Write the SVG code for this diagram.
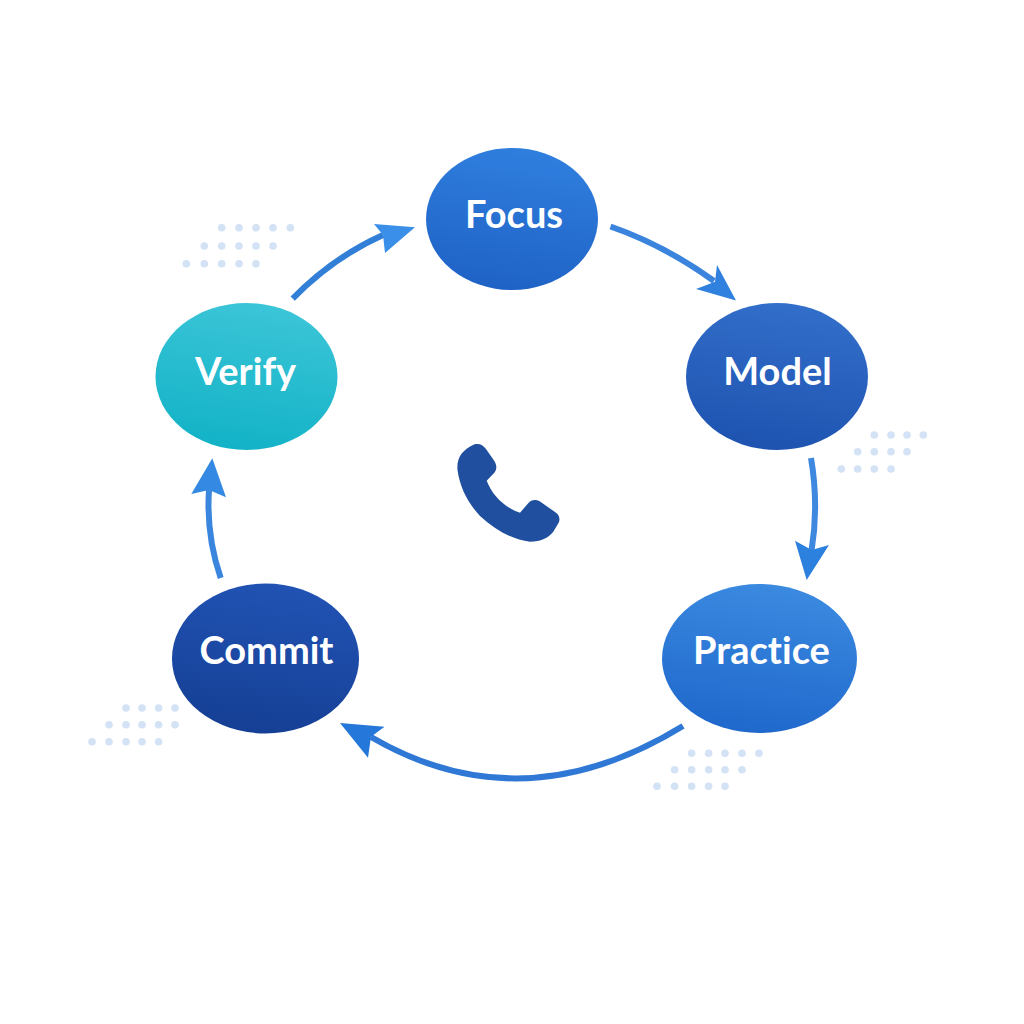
<svg xmlns="http://www.w3.org/2000/svg" width="1024" height="1024" viewBox="0 0 1024 1024">
<style>
.lbl{font-family:"Lato","Noto Sans",sans-serif;font-weight:700;font-size:38px;fill:#fff;text-anchor:middle;font-variant-ligatures:none}
.arc{fill:none;stroke-width:6}
.d{fill:#d3e2f4}
</style>
<defs>
<linearGradient id="gFocus" x1="0.6" y1="0" x2="0.4" y2="1"><stop offset="0" stop-color="#2f7fdf"/><stop offset="1" stop-color="#1f62c6"/></linearGradient>
<linearGradient id="gModel" x1="0.6" y1="0" x2="0.4" y2="1"><stop offset="0" stop-color="#326fca"/><stop offset="1" stop-color="#1e53b0"/></linearGradient>
<linearGradient id="gPractice" x1="0.6" y1="0" x2="0.4" y2="1"><stop offset="0" stop-color="#3b8ae0"/><stop offset="1" stop-color="#1f68cc"/></linearGradient>
<linearGradient id="gCommit" x1="0.6" y1="0" x2="0.4" y2="1"><stop offset="0" stop-color="#2153b4"/><stop offset="1" stop-color="#153f94"/></linearGradient>
<linearGradient id="gVerify" x1="0.6" y1="0" x2="0.4" y2="1"><stop offset="0" stop-color="#3cc5d8"/><stop offset="1" stop-color="#12b2c6"/></linearGradient>
</defs>
<rect width="1024" height="1024" fill="#fff"/>
<g id="dots">
<g class="d" id="dots-tl">
<circle cx="221.7" cy="227.7" r="3.8"/><circle cx="239" cy="227.7" r="3.8"/><circle cx="256" cy="227.7" r="3.8"/><circle cx="273" cy="227.7" r="3.8"/><circle cx="290.3" cy="227.7" r="3.8"/>
<circle cx="204.3" cy="246" r="3.8"/><circle cx="221.7" cy="246" r="3.8"/><circle cx="239" cy="246" r="3.8"/><circle cx="256" cy="246" r="3.8"/><circle cx="273" cy="246" r="3.8"/>
<circle cx="186.3" cy="263.7" r="3.8"/><circle cx="204.3" cy="263.7" r="3.8"/><circle cx="221.7" cy="263.7" r="3.8"/><circle cx="239" cy="263.7" r="3.8"/><circle cx="256" cy="263.7" r="3.8"/>
</g>
<g class="d" id="dots-r">
<circle cx="874.3" cy="435" r="3.8"/><circle cx="891" cy="435" r="3.8"/><circle cx="907" cy="435" r="3.8"/><circle cx="923.3" cy="435" r="3.8"/>
<circle cx="857.7" cy="451.7" r="3.8"/><circle cx="874.3" cy="451.7" r="3.8"/><circle cx="891" cy="451.7" r="3.8"/><circle cx="907" cy="451.7" r="3.8"/>
<circle cx="841.3" cy="469" r="3.8"/><circle cx="857.7" cy="469" r="3.8"/><circle cx="874.3" cy="469" r="3.8"/><circle cx="891" cy="469" r="3.8"/>
</g>
<g class="d" id="dots-bl">
<circle cx="126" cy="708" r="3.8"/><circle cx="142" cy="708" r="3.8"/><circle cx="158.6" cy="708" r="3.8"/><circle cx="175" cy="708" r="3.8"/>
<circle cx="109" cy="724.7" r="3.8"/><circle cx="126" cy="724.7" r="3.8"/><circle cx="142" cy="724.7" r="3.8"/><circle cx="158.6" cy="724.7" r="3.8"/><circle cx="175" cy="724.7" r="3.8"/>
<circle cx="92" cy="741.7" r="3.8"/><circle cx="109" cy="741.7" r="3.8"/><circle cx="126" cy="741.7" r="3.8"/><circle cx="142" cy="741.7" r="3.8"/><circle cx="158.6" cy="741.7" r="3.8"/>
</g>
<g class="d" id="dots-br">
<circle cx="691.6" cy="753.3" r="3.8"/><circle cx="708.6" cy="753.3" r="3.8"/><circle cx="725" cy="753.3" r="3.8"/><circle cx="742" cy="753.3" r="3.8"/><circle cx="759" cy="753.3" r="3.8"/>
<circle cx="674.6" cy="769.7" r="3.8"/><circle cx="691.6" cy="769.7" r="3.8"/><circle cx="708.6" cy="769.7" r="3.8"/><circle cx="725" cy="769.7" r="3.8"/><circle cx="742" cy="769.7" r="3.8"/>
<circle cx="657" cy="786.3" r="3.8"/><circle cx="674.6" cy="786.3" r="3.8"/><circle cx="691.6" cy="786.3" r="3.8"/><circle cx="708.6" cy="786.3" r="3.8"/><circle cx="725" cy="786.3" r="3.8"/>
</g>
</g>
<g id="connectors">
<path class="arc" stroke="#3a84de" d="M610.5 226.5Q664 245 714 281"/>
<path fill="#2f80df" d="M736 300.5L717 265L715 281.7L696 289Z"/>
<path class="arc" stroke="#3f88e0" d="M811 458Q819 505 811.5 551"/>
<path fill="#2c80de" d="M806.7 580L795 540.7L811.7 550L829 545Z"/>
<path class="arc" stroke="#2f78d6" d="M683 726Q522 825 371 737"/>
<path fill="#2578d9" d="M340 723L384.5 726.7L371 736.7L368 757.7Z"/>
<path class="arc" stroke="#3a86de" d="M220.7 578Q206 535 209 490"/>
<path fill="#348ae3" d="M212.3 458.3L191.3 494L209 490L226 497.3Z"/>
<path class="arc" stroke="#327fd8" d="M292.7 298.7Q332 258 383 235"/>
<path fill="#3a8fe8" d="M415 227.3L374 224L383 235L385 253Z"/>
</g>
<g id="node-focus"><ellipse cx="512" cy="219" rx="86" ry="71" fill="url(#gFocus)"/><text class="lbl" x="514" y="228">Focus</text></g>
<g id="node-model"><ellipse cx="777" cy="376.5" rx="91" ry="73.5" fill="url(#gModel)"/><text class="lbl" x="777.5" y="385">Model</text></g>
<g id="node-practice"><ellipse cx="759.5" cy="658.5" rx="97.5" ry="74.5" fill="url(#gPractice)"/><text class="lbl" x="761.5" y="663.5">Practice</text></g>
<g id="node-commit"><ellipse cx="265.5" cy="658.5" rx="93.5" ry="75" fill="url(#gCommit)"/><text class="lbl" x="266.5" y="663.5">Commit</text></g>
<g id="node-verify"><ellipse cx="246.5" cy="376.5" rx="91" ry="73.5" fill="url(#gVerify)"/><text class="lbl" x="245.5" y="384.5">Verify</text></g>
<g id="phone"><path fill="#1f4f9e" d="M474 444.5C479 443 483 445 486 449L494 460.5C497 465 497 469 494.5 472.5L486.7 480.7C492 495 505 508 520 512.7L528 503.5C531 499.5 536 499 540 501.5L555 512C559.5 515 560.5 519 558.5 523L553.3 531.7C548 538 541 541.5 530 541.7C514 540 496 531 480 516C468 503 460 488 457.5 470C456.5 458 462 450 474 444.5Z"/></g>
</svg>
